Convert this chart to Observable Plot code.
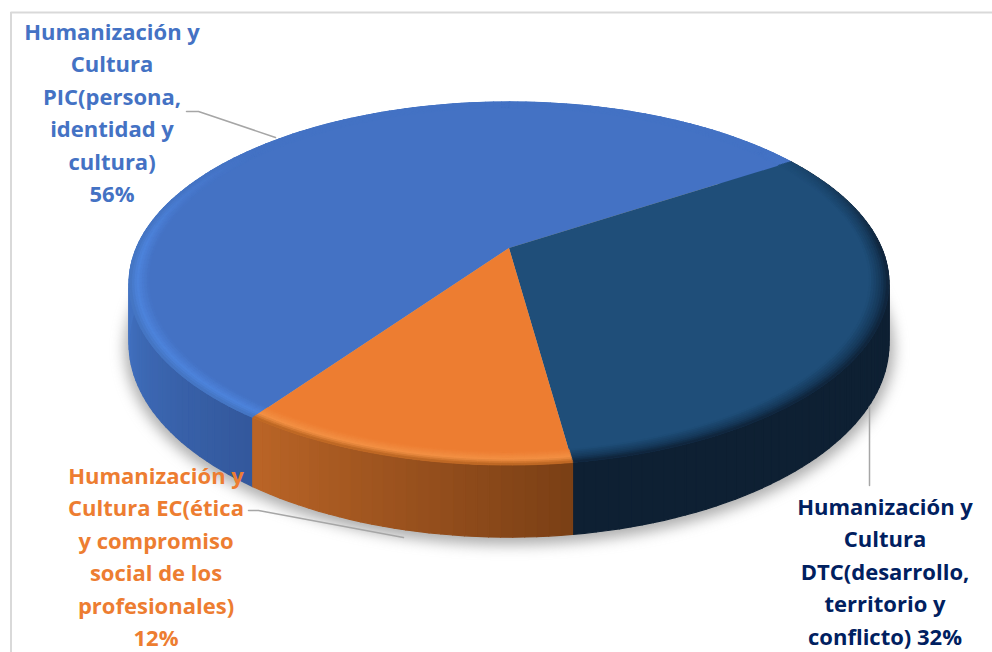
<!DOCTYPE html>
<html><head><meta charset="utf-8">
<script src="https://cdn.jsdelivr.net/npm/d3@7"></script>
<script src="https://cdn.jsdelivr.net/npm/@observablehq/plot@0.6"></script>
<style>html,body{margin:0;padding:0;background:#fff}svg{display:block}</style>
</head><body><div id="chart"></div>
<script>
// ---- chart values ----
const categories = ["PIC", "DTC", "EC"];
const values = [56, 32, 12];
const labels = [
  "Humanización y\nCultura\nPIC(persona,\nidentidad y\ncultura)\n56%",
  "Humanización y\nCultura\nDTC(desarrollo,\nterritorio y\nconflicto) 32%",
  "Humanización y\nCultura EC(ética\ny compromiso\nsocial de los\nprofesionales)\n12%"
];
const faceColors = ["#4472c4", "#1f4e79", "#ed7d31"];
const rimColors = ["#4d84dc", "#16395a", "#f39044"];
const edgeColors = ["#4473c0", "#0f2338", "#b4601f"];
const wallStart = ["#33589c", "#0e2033", "#7a3f15"];
const wallEnd = ["#4272c2", "#0e2033", "#bb6527"];
const textColors = ["#4472c4", "#002060", "#ed7d31"];

// ---- layout (not data) ----
const firstAngle = 215.3;                 // degrees clockwise from the top where the first slice begins
const view = {cx: 509, cy: 248, a: 372.6, b: 174.6, k: 0.1956, wall: 58};
const labelAt = [[111.5, 113], [884.5, 572], [155.5, 557]];
const leaders = [
  [[186, 111], [198, 111], [275, 137]],
  [[869, 406], [869, 485]],
  [[248, 510], [258, 510], [403, 537]]
];
const frameLeft = 10.5, frameTop = 12;

// perspective projection of a disc point, r in 0..1, angle in degrees
function project(deg, r = 1, drop = 0) {
  const t = deg * Math.PI / 180, u = r * Math.sin(t), v = -r * Math.cos(t);
  const w = 1 - view.k * v;
  return {x: view.cx + view.a * u / w, y: view.cy + (view.b * v + drop) / w, v};
}
const total = d3.sum(values);
let run = firstAngle;
const slices = values.map((val, i) => {
  const start = run; run += val / total * 360;
  return {i, start, end: run};
});
function steps(s, n) { return d3.range(n + 1).map(j => s.start + (s.end - s.start) * j / n); }

const wedges = [], walls = [], bevels = [];
const clamp = x => Math.max(0, Math.min(1, x));
slices.forEach(s => {
  const n = Math.ceil((s.end - s.start) / 1.5);
  const as = steps(s, n);
  as.forEach(a => {
    const p = project(a);
    wedges.push({i: s.i, x1: p.x, y1: p.y, x2: view.cx, y2: view.cy});
  });
  // side wall
  for (let j = 0; j < n; j++) {
    const f = (j + .5) / n;
    const c = d3.interpolateRgb(wallStart[s.i], wallEnd[s.i])(s.i === 0 ? clamp(f * 4.5) : f);
    [as[j], as[j + 1]].forEach(a => {
      const top = project(a), bot = project(a, 1, view.wall);
      walls.push({z: `${s.i}-${j}`, c, x1: top.x, y1: top.y, x2: bot.x, y2: bot.y});
    });
  }
  // bevel on the face edge
  const radii = d3.range(0, 9).map(q => 0.95 + q * 0.05 / 8);
  for (let j = 0; j < n; j++) {
    const mid = project((as[j] + as[j + 1]) / 2);
    const strength = clamp((mid.v + 0.62) / 0.6);
    for (let q = 0; q < radii.length - 1; q++) {
      const t = (q + .5) / (radii.length - 1);
      const ramp = t < .6
        ? d3.interpolateRgb(faceColors[s.i], rimColors[s.i])(t / .6)
        : d3.interpolateRgb(rimColors[s.i], edgeColors[s.i])((t - .6) / .4);
      const c = d3.interpolateRgb(faceColors[s.i], ramp)(strength);
      [as[j], as[j + 1]].forEach(a => {
        const o = project(a, radii[q + 1]), n2 = project(a, radii[q]);
        bevels.push({z: `${s.i}-${j}-${q}`, c, x1: o.x, y1: o.y, x2: n2.x, y2: n2.y});
      });
    }
  }
});
const shadow = d3.range(0, 361, 3).map(a => {
  const p = project(a, 1.012, view.wall + 3);
  return {x: p.x, y: p.y};
});
const leaderRows = leaders.flatMap((pts, i) => pts.map(([x, y]) => ({i, x, y})));
const labelRows = labels.map((text, i) => ({text, x: labelAt[i][0], y: labelAt[i][1] - 3, c: textColors[i], name: categories[i]}));

const chart = Plot.plot({
  width: 992, height: 652, margin: 0,
  x: {domain: [0, 992], range: [0, 992], axis: null},
  y: {domain: [0, 652], range: [0, 652], axis: null},
  color: {type: "identity"},
  marks: [
    Plot.ruleX([frameLeft], {y1: frameTop, y2: 652, stroke: "#d9d9d9", strokeWidth: 2}),
    Plot.ruleY([frameTop], {x1: frameLeft, x2: 992, stroke: "#d9d9d9", strokeWidth: 2}),
    Plot.line(shadow, {x: "x", y: "y", fill: "#777", stroke: "none", fillOpacity: .6, imageFilter: "blur(7px)"}),
    Plot.area(walls, {x1: "x1", y1: "y1", x2: "x2", y2: "y2", z: "z", fill: "c", stroke: "c", strokeWidth: 1.2}),
    Plot.area(wedges, {x1: "x1", y1: "y1", x2: "x2", y2: "y2", z: "i", fill: d => faceColors[d.i]}),
    Plot.area(bevels, {x1: "x1", y1: "y1", x2: "x2", y2: "y2", z: "z", fill: "c", stroke: "c", strokeWidth: .8}),
    Plot.line(leaderRows, {x: "x", y: "y", z: "i", stroke: "#a6a6a6", strokeWidth: 1.5, curve: "linear"}),
    Plot.text(labelRows, {
      x: "x", y: "y", text: "text", fill: "c", textAnchor: "middle", lineAnchor: "middle",
      lineHeight: 1.48, fontFamily: "'Open Sans'", fontWeight: 700, fontSize: 22
    })
  ]
});
document.getElementById("chart").append(chart);
</script></body></html>
